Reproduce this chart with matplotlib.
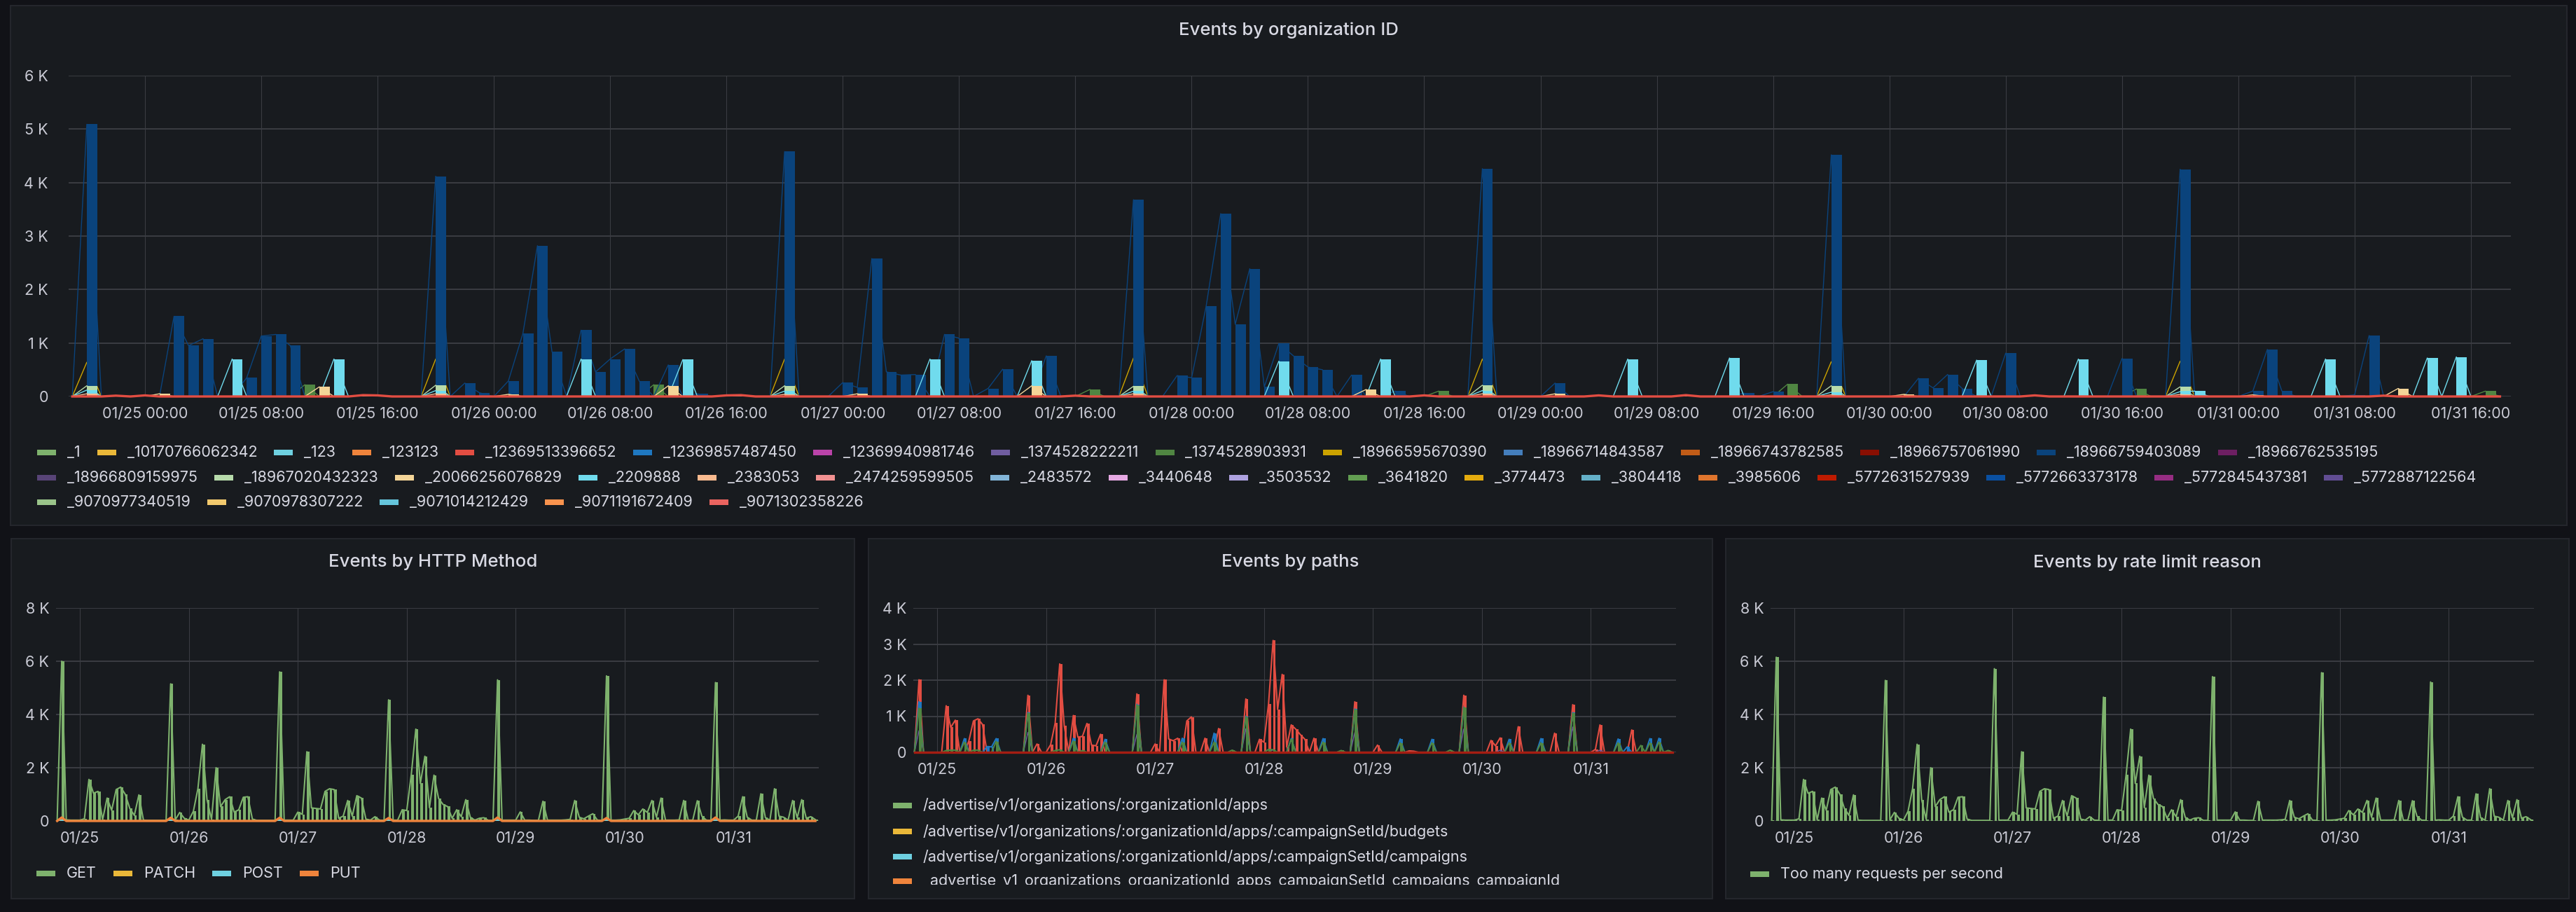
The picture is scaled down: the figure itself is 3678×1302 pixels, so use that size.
import numpy as np
import matplotlib
matplotlib.use("Agg")
import matplotlib.pyplot as plt
from matplotlib.patches import FancyBboxPatch
from matplotlib.transforms import Bbox, TransformedBbox
from matplotlib.ticker import FuncFormatter

W, H = 3678, 1302
DPI = 100

PAGE_BG = '#111217'
PANEL_BG = '#181b1f'
PANEL_EDGE = '#24262c'
GRID = '#3a3c42'
TEXT = '#d8d9e3'
TICK = '#c9cad4'

plt.rcParams['font.family'] = ['Inter', 'DejaVu Sans']

# hourly buckets, hours counted from 01/25 00:00
HOURS = np.arange(-5, 163)

# ---- top panel: events by organization id (sparse {hour: count})
TOP_GREEN = {11: 220, 35: 220, 65: 130, 89: 100, 113: 230, 137: 140, 161: 100}
TOP_GOLD = {-4: 640, 20: 700, 44: 700, 68: 720, 92: 700, 116: 650, 140: 660}
TOP_BLUE = {-4: 5090, 2: 1500, 3: 950, 4: 1080, 7: 350, 8: 1130, 9: 1160, 10: 950,
            20: 4120, 22: 250, 23: 70, 25: 290, 26: 1180, 27: 2820, 28: 840, 30: 1240,
            31: 460, 32: 700, 33: 890, 34: 290, 36: 590, 38: 50, 44: 4580, 48: 260,
            49: 170, 50: 2580, 51: 460, 52: 400, 53: 410, 55: 1160, 56: 1090, 58: 150,
            59: 510, 62: 760, 68: 3680, 71: 390, 72: 350, 73: 1690, 74: 3420, 75: 1350,
            76: 2390, 77: 180, 78: 990, 79: 760, 80: 550, 81: 500, 83: 400, 86: 100,
            92: 4260, 97: 250, 110: 60, 112: 90, 116: 4520, 122: 340, 123: 160, 124: 410,
            125: 150, 128: 810, 136: 710, 140: 4250, 145: 100, 146: 880, 147: 100,
            152: 30, 153: 1140}
TOP_LGREEN = {-4: 200, 20: 210, 44: 200, 68: 190, 92: 210, 116: 200, 140: 180}
TOP_CYAN = {-4: 120, 6: 700, 13: 700, 20: 110, 30: 700, 37: 690, 44: 100, 54: 700,
            61: 670, 68: 100, 78: 660, 85: 700, 92: 110, 102: 700, 109: 720, 116: 80,
            126: 680, 133: 700, 140: 90, 141: 100, 150: 700, 157: 720, 159: 740}
TOP_SAND = {1: 50, 12: 180, 25: 40, 36: 200, 49: 50, 61: 200, 84: 130, 97: 50,
            121: 40, 145: 30, 155: 150}
TOP_SALMON = {-4: 50, 20: 50, 44: 40, 68: 50, 92: 50, 116: 30, 140: 40}
TOP_RED = {-2: 15, 0: 20, 15: 25, 16: 20, 40: 20, 41: 25, 64: 15, 88: 20, 100: 20,
           106: 25, 130: 20, 154: 15}

TOP_LEGEND_ROWS = [
    ['_1', '_10170766062342', '_123', '_123123', '_12369513396652', '_12369857487450',
     '_12369940981746', '_1374528222211', '_1374528903931', '_18966595670390',
     '_18966714843587', '_18966743782585', '_18966757061990', '_18966759403089',
     '_18966762535195'],
    ['_18966809159975', '_18967020432323', '_20066256076829', '_2209888', '_2383053',
     '_2474259599505', '_2483572', '_3440648', '_3503532', '_3641820', '_3774473',
     '_3804418', '_3985606', '_5772631527939', '_5772663373178', '_5772845437381',
     '_5772887122564'],
    ['_9070977340519', '_9070978307222', '_9071014212429', '_9071191672409',
     '_9071302358226'],
]
PALETTE = ['#7EB26D', '#EAB839', '#6ED0E0', '#EF843C', '#E24D42', '#1F78C1', '#BA43A9',
           '#705DA0', '#508642', '#CCA300', '#447EBC', '#C15C17', '#890F02', '#0A437C',
           '#6D1F62', '#584477', '#B7DBAB', '#F4D598', '#70DBED', '#F9BA8F', '#F29191',
           '#82B5D8', '#E5A8E2', '#AEA2E0', '#629E51', '#E5AC0E', '#64B0C8', '#E0752D',
           '#BF1B00', '#0A50A1', '#962D82', '#614D93', '#9AC48A', '#F2C96D', '#65C5DB',
           '#F9934E', '#EA6460']

# ---- bottom left: events by HTTP method
GET = [30, 6000, 40, 30, 30, 30, 80, 1560, 1040, 1110, 40, 860, 400, 1180, 1270, 1000, 470, 210, 980, 30, 20, 20, 20, 20,
       20, 5150, 40, 320, 100, 30, 360, 1210, 2880, 800, 60, 2000, 540, 800, 910, 330, 420, 890, 910, 70, 20, 20, 20, 20,
       20, 5600, 30, 30, 30, 330, 250, 2600, 490, 470, 450, 1110, 1210, 1180, 100, 180, 770, 180, 950, 860, 70, 30, 160, 30,
       20, 4550, 30, 30, 420, 390, 1740, 3450, 1410, 2430, 500, 1720, 850, 620, 540, 100, 420, 160, 800, 140, 30, 100, 120, 20,
       20, 5300, 30, 30, 30, 30, 340, 30, 30, 20, 20, 740, 30, 30, 30, 30, 40, 60, 770, 140, 80, 180, 270, 30,
       20, 5450, 30, 30, 40, 70, 100, 390, 230, 450, 320, 770, 140, 860, 30, 30, 30, 40, 770, 30, 30, 760, 180, 30,
       20, 5200, 30, 40, 30, 30, 180, 910, 140, 30, 30, 1020, 120, 30, 1210, 180, 140, 30, 770, 120, 800, 100, 160, 50]
PATCH = {}
POST = {-4: 40, 20: 40, 44: 40, 68: 40, 92: 40, 116: 40, 140: 40}
PUT = {-4: 130, 20: 120, 44: 120, 68: 110, 92: 130, 116: 110, 140: 130}
METHODS = ['GET', 'PATCH', 'POST', 'PUT']

# ---- bottom middle: events by paths
PATH_RED = {-4: 2010, 2: 1290, 3: 690, 4: 890, 7: 320, 8: 870, 9: 930, 10: 770, 20: 1580,
            22: 230, 25: 210, 26: 810, 27: 2450, 28: 730, 30: 1020, 31: 420, 32: 440,
            33: 800, 34: 200, 35: 180, 36: 500, 44: 1620, 48: 230, 50: 2010, 51: 370,
            52: 320, 53: 390, 55: 870, 56: 980, 59: 390, 62: 660, 68: 1480, 71: 360,
            72: 280, 73: 1340, 74: 3100, 75: 1190, 76: 2160, 77: 150, 78: 760, 79: 640,
            80: 490, 81: 360, 83: 390, 92: 1400, 97: 200, 104: 40, 105: 30, 116: 1580,
            122: 330, 123: 180, 124: 400, 128: 710, 136: 530, 140: 1320, 145: 80,
            146: 760, 153: 620}
PATH_BLUE = {-4: 1400, 6: 380, 11: 160, 12: 150, 13: 380, 20: 1100, 30: 390, 37: 360,
             44: 1330, 54: 390, 61: 530, 68: 1000, 78: 380, 85: 380, 92: 1200, 102: 370,
             109: 360, 116: 1250, 126: 360, 133: 380, 140: 1100, 150: 370, 152: 150,
             157: 380, 159: 390}
PATH_GREEN = {-4: 1220, 2: 50, 3: 60, 4: 60, 6: 280, 8: 60, 9: 60, 13: 300, 20: 1080,
              26: 50, 27: 70, 30: 310, 32: 50, 37: 280, 44: 1310, 54: 280, 61: 280,
              65: 60, 68: 980, 73: 80, 74: 70, 78: 360, 85: 280, 89: 50, 92: 1180,
              102: 260, 109: 260, 113: 60, 116: 1240, 126: 260, 133: 260, 140: 1080,
              150: 260, 155: 190, 157: 260, 159: 280, 161: 50}
PATH_PURPLE = {-4: 600, 20: 550, 44: 500, 68: 650, 74: 70, 92: 550, 116: 650, 124: 60,
               140: 700, 146: 60}
PATHS = ['/advertise/v1/organizations/:organizationId/apps',
         '/advertise/v1/organizations/:organizationId/apps/:campaignSetId/budgets',
         '/advertise/v1/organizations/:organizationId/apps/:campaignSetId/campaigns',
         '_advertise_v1_organizations_organizationId_apps_campaignSetId_campaigns_campaignId']

# ---- bottom right: events by rate limit reason
RATE = [30, 6150, 40, 30, 30, 30, 80, 1560, 1040, 1110, 40, 860, 400, 1180, 1270, 1000, 470, 210, 980, 30, 20, 20, 20, 20,
        20, 5280, 40, 320, 100, 30, 360, 1210, 2880, 800, 60, 2000, 540, 800, 910, 330, 420, 890, 910, 70, 20, 20, 20, 20,
        20, 5720, 30, 30, 30, 330, 250, 2600, 490, 470, 450, 1110, 1210, 1180, 100, 180, 770, 180, 950, 860, 70, 30, 160, 30,
        20, 4650, 30, 30, 420, 390, 1740, 3450, 1410, 2430, 500, 1720, 850, 620, 540, 100, 420, 160, 800, 140, 30, 100, 120, 20,
        20, 5420, 30, 30, 30, 30, 340, 30, 30, 20, 20, 740, 30, 30, 30, 30, 40, 60, 770, 140, 80, 180, 270, 30,
        20, 5570, 30, 30, 40, 70, 100, 390, 230, 450, 320, 770, 140, 860, 30, 30, 30, 40, 770, 30, 30, 760, 180, 30,
        20, 5220, 30, 40, 30, 30, 180, 910, 140, 30, 30, 1020, 120, 30, 1210, 180, 140, 30, 770, 120, 800, 100, 160, 50]
REASONS = ['Too many requests per second']


def dense(d):
    arr = np.zeros(len(HOURS))
    for h, v in d.items():
        arr[h - HOURS[0]] = v
    return arr


def fig_rect(x0, y0, x1, y1):
    return [x0 / W, 1 - y1 / H, (x1 - x0) / W, (y1 - y0) / H]


fig = plt.figure(figsize=(W / DPI, H / DPI), dpi=DPI, facecolor=PAGE_BG)
renderer = fig.canvas.get_renderer()


def panel(x0, y0, x1, y1, title, ty):
    fig.add_artist(FancyBboxPatch((x0 / W, 1 - y1 / H), (x1 - x0) / W, (y1 - y0) / H,
                                  boxstyle='square,pad=0', transform=fig.transFigure,
                                  fc=PANEL_BG, ec=PANEL_EDGE, lw=1.5, zorder=0))
    fig.text((x0 + x1) / 2 / W, 1 - ty / H, title, ha='center', va='center',
             fontsize=18.5, fontweight='medium', color=TEXT)


def k_fmt(v, pos):
    return '0' if v == 0 else f'{v / 1000:g} K'


def setup_axes(rect, ymax, ystep, xticks, xlabels, ypad):
    ax = fig.add_axes(fig_rect(*rect))
    ax.set_facecolor('none')
    ax.set_xlim(-5.25, 162.75)
    ax.set_ylim(0, ymax)
    for s in ax.spines.values():
        s.set_visible(False)
    ax.set_yticks(np.arange(0, ymax + 1, ystep))
    ax.yaxis.set_major_formatter(FuncFormatter(k_fmt))
    ax.set_xticks(xticks)
    ax.set_xticklabels(xlabels)
    ax.tick_params(axis='both', length=0, colors=TICK, labelsize=15.5)
    ax.tick_params(axis='y', pad=ypad)
    ax.tick_params(axis='x', pad=11)
    ax.grid(axis='y', color=GRID, lw=1.4)
    ax.grid(axis='x', color=GRID, lw=0.8)
    ax.set_axisbelow(True)
    return ax


def draw_series(ax, values, color, width, lw, z, alpha=1.0):
    ax.bar(HOURS, values, width=width, align='edge', color=color, alpha=alpha,
           linewidth=0, zorder=z)
    ax.plot(HOURS, values, color=color, lw=lw, zorder=z + 0.1)


def flow_legend(items, x, y, clip=None):
    for label, color in items:
        sw = FancyBboxPatch(((x) / W, 1 - (y + 4) / H), 27 / W, 8 / H,
                            boxstyle='square,pad=0', transform=fig.transFigure,
                            fc=color, ec='none')
        fig.add_artist(sw)
        t = fig.text((x + 43) / W, 1 - y / H, label, ha='left', va='center',
                     fontsize=15.5, color=TEXT)
        if clip is not None:
            for a in (sw, t):
                a.set_clip_box(clip)
                a.set_clip_on(True)
        x = x + 43 + t.get_window_extent(renderer).width + 24


day_ticks = [0, 24, 48, 72, 96, 120, 144]
day_labels = ['01/25', '01/26', '01/27', '01/28', '01/29', '01/30', '01/31']

# ---------------- top panel
panel(15, 8, 3665, 750, 'Events by organization ID', 43)
top_ticks = list(range(0, 161, 8))
top_labels = [f'01/{25 + h // 24} {h % 24:02d}:00' for h in top_ticks]
ax = setup_axes((98, 108, 3585, 566), 6000, 1000, top_ticks, top_labels, 21)
draw_series(ax, dense(TOP_GREEN), '#508642', 0.72, 1.0, 2)
draw_series(ax, dense(TOP_GOLD), '#CCA300', 0.72, 1.0, 2.2)
draw_series(ax, dense(TOP_BLUE), '#0A437C', 0.72, 1.0, 2.4)
draw_series(ax, dense(TOP_LGREEN), '#B7DBAB', 0.72, 1.0, 2.6)
draw_series(ax, dense(TOP_CYAN), '#70DBED', 0.72, 1.0, 2.8)
draw_series(ax, dense(TOP_SAND), '#F4D598', 0.72, 1.0, 3.0)
draw_series(ax, dense(TOP_SALMON), '#F9BA8F', 0.72, 1.0, 3.2)
ax.plot(HOURS, dense(TOP_RED), color='#E24D42', lw=2.4, zorder=4, clip_on=False)

i = 0
for row, yc in zip(TOP_LEGEND_ROWS, [646, 682, 717]):
    flow_legend([(lab, PALETTE[(i + k) % len(PALETTE)]) for k, lab in enumerate(row)], 53, yc)
    i += len(row)

# ---------------- bottom left
panel(16, 769, 1220, 1283, 'Events by HTTP Method', 803)
ax = setup_axes((80, 868, 1169, 1172), 8000, 2000, day_ticks, day_labels, 7)
draw_series(ax, np.array(GET, float), '#7EB26D', 0.55, 1.5, 2)
draw_series(ax, dense(PATCH), '#EAB839', 0.55, 1.5, 2.2)
draw_series(ax, dense(POST), '#6ED0E0', 0.55, 1.5, 2.4)
ax.plot(HOURS, dense(PUT), color='#EF843C', lw=2.4, zorder=3, clip_on=False)
flow_legend(list(zip(METHODS, PALETTE[:4])), 52, 1247)

# ---------------- bottom middle
panel(1240, 769, 2445, 1283, 'Events by paths', 803)
ax = setup_axes((1304, 868, 2393, 1074), 4000, 1000, day_ticks, day_labels, 7)
draw_series(ax, dense(PATH_RED), '#E24D42', 0.55, 1.5, 2)
draw_series(ax, dense(PATH_PURPLE), '#705DA0', 0.3, 1.0, 2.2)
draw_series(ax, dense(PATH_BLUE), '#1F78C1', 0.55, 1.5, 2.4)
draw_series(ax, dense(PATH_GREEN), '#508642', 0.55, 1.5, 2.6)
ax.plot(HOURS, dense({}), color='#a51d12', lw=2.4, zorder=3, clip_on=False)
# the legend list scrolls, so its last row is cut off at the panel bottom
clip = TransformedBbox(Bbox.from_extents(1240 / W, 1 - 1263 / H, 2445 / W, 1 - 1125 / H),
                       fig.transFigure)
for lab, col, yc in zip(PATHS, PALETTE[:4], [1150, 1187, 1223, 1258]):
    flow_legend([(lab, col)], 1275, yc, clip=clip)

# ---------------- bottom right
panel(2464, 769, 3668, 1283, 'Events by rate limit reason', 803)
ax = setup_axes((2528, 868, 3618, 1172), 8000, 2000, day_ticks, day_labels, 7)
draw_series(ax, np.array(RATE, float), '#7EB26D', 0.55, 1.5, 2)
flow_legend(list(zip(REASONS, PALETTE[:1])), 2499, 1248)

fig.savefig('out.png', dpi=DPI, facecolor=PAGE_BG)
